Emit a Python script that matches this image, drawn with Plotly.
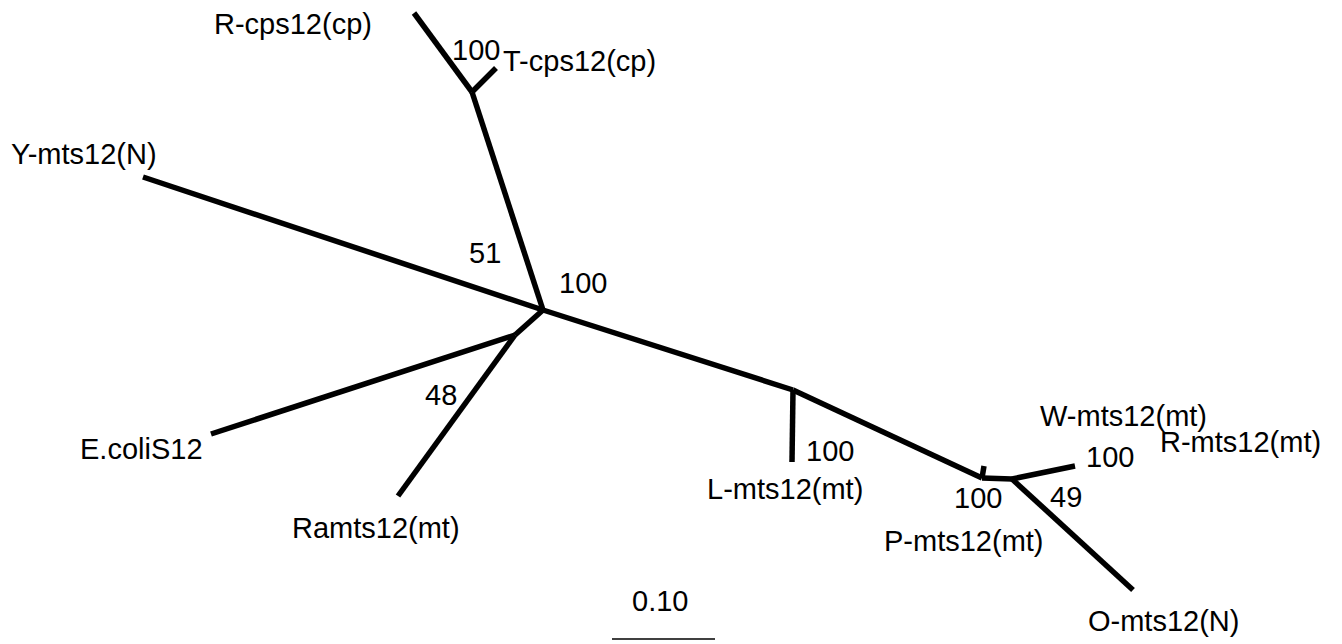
import plotly.graph_objects as go

# Tree nodes (drawing units: layout coordinates of the phylogram)
node_names = ["C", "A", "R-cps", "T-cps", "Y", "B", "Ecoli", "Ramts",
              "D", "L", "E", "P", "F", "WR", "O"]
node_x = [543, 472, 414, 496, 143, 515, 211, 398, 793, 792, 982, 984, 1012, 1075, 1133]
node_y = [310, 92, 13, 68, 177, 335, 434, 496, 390, 462, 478, 466, 479, 466, 590]

# Branches (parent -> child)
edge_parent = ["C", "A", "A", "C", "C", "B", "B", "C", "D", "D", "E", "E", "F", "F"]
edge_child = ["A", "R-cps", "T-cps", "Y", "B", "Ecoli", "Ramts", "D", "L", "E", "P", "F", "WR", "O"]

# Taxon labels
taxon_text = ["R-cps12(cp)", "T-cps12(cp)", "Y-mts12(N)", "E.coliS12", "Ramts12(mt)",
              "L-mts12(mt)", "P-mts12(mt)", "W-mts12(mt)", "R-mts12(mt)", "O-mts12(N)"]
taxon_x = [293, 579, 84, 141, 376, 785, 964, 1123, 1240, 1163]
taxon_y = [24, 61, 154, 449, 528, 489, 541, 416, 442, 621]

# Bootstrap values
boot_text = ["100", "51", "100", "48", "100", "100", "49", "100"]
boot_x = [476, 485, 583, 441, 830, 978, 1066, 1110]
boot_y = [50, 253, 283, 395, 451, 498, 497, 457]

# Scale bar
scale_value = "0.10"
scale_x = [612, 715]
scale_y = [639, 639]
scale_label_x = 660
scale_label_y = 601

idx = {n: i for i, n in enumerate(node_names)}
ex, ey = [], []
for p, c in zip(edge_parent, edge_child):
    ex += [node_x[idx[p]], node_x[idx[c]], None]
    ey += [node_y[idx[p]], node_y[idx[c]], None]

fig = go.Figure()
fig.add_trace(go.Scatter(x=ex, y=ey, mode="lines",
                         line=dict(color="black", width=5.5),
                         hoverinfo="skip", showlegend=False))
fig.add_trace(go.Scatter(x=scale_x, y=scale_y, mode="lines",
                         line=dict(color="black", width=1.6),
                         hoverinfo="skip", showlegend=False))

font = dict(family="Liberation Sans, Arial, Helvetica, sans-serif", size=29, color="black")
for t, x, y in zip(taxon_text, taxon_x, taxon_y):
    fig.add_annotation(x=x, y=y, text=t, showarrow=False, font=font,
                       xanchor="center", yanchor="middle")
for t, x, y in zip(boot_text, boot_x, boot_y):
    fig.add_annotation(x=x, y=y, text=t, showarrow=False, font=font,
                       xanchor="center", yanchor="middle")
fig.add_annotation(x=scale_label_x, y=scale_label_y, text=scale_value, showarrow=False,
                   font=font, xanchor="center", yanchor="middle")

fig.update_layout(
    width=1342, height=644,
    margin=dict(l=0, r=0, t=0, b=0),
    paper_bgcolor="white", plot_bgcolor="white",
    xaxis=dict(range=[0, 1342], visible=False, fixedrange=True),
    yaxis=dict(range=[644, 0], visible=False, fixedrange=True),
    showlegend=False,
)
fig.write_html("out.html", config={"displayModeBar": False},
               post_script="document.body.style.margin='0';document.body.style.overflow='hidden';")
